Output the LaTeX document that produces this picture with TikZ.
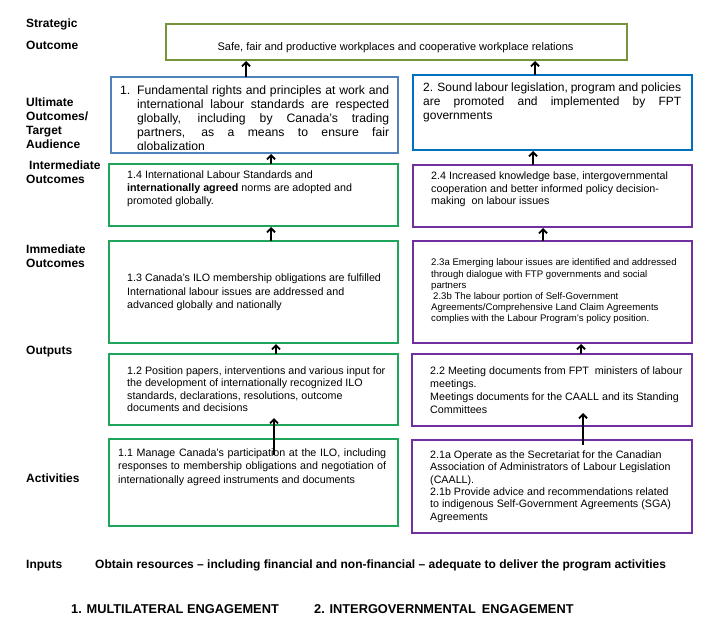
\documentclass[tikz,border=0pt]{standalone}
\usepackage{fontspec}
\setmainfont{Liberation Sans}
\usetikzlibrary{arrows.meta}
\definecolor{olivebox}{HTML}{77933C}
\definecolor{blueA}{HTML}{4F81BD}
\definecolor{blueB}{HTML}{0070C0}
\definecolor{greenbox}{RGB}{30,165,90}
\definecolor{purplebox}{HTML}{7030A0}
\newcommand{\mystrut}{\rule{0pt}{0.8em}}
\begin{document}
\begin{tikzpicture}[x=1pt,y=-1pt,
  frame/.style={draw=#1, line width=2pt, rectangle, inner sep=0pt, outer sep=0pt, anchor=north west},
  arr/.style={-{Straight Barb[length=4pt,width=8pt]}, line width=1.8pt, shorten >=1pt},
  lbl/.style={font=\fontsize{12}{14}\selectfont\bfseries, anchor=base west, inner sep=0pt},
  ttl/.style={font=\fontsize{12.8}{15}\selectfont\bfseries, anchor=base west, inner sep=0pt},
  txt/.style={anchor=north west, inner sep=0pt, align=left},
  txtA/.style={txt, font=\fontsize{10.7}{13}\selectfont},
]
\useasboundingbox[fill=white] (0,0) rectangle (714,626);

% boxes
\node[frame=olivebox, minimum width=461pt, minimum height=36pt] (so) at (166,24) {};
\node[frame=blueA, minimum width=287pt, minimum height=76pt] (u1) at (111,77) {};
\node[frame=blueB, minimum width=279pt, minimum height=75pt] (u2) at (413,75) {};
\node[frame=greenbox, minimum width=289pt, minimum height=62pt] (i1) at (109,164) {};
\node[frame=purplebox, minimum width=279pt, minimum height=62pt] (i2) at (413,165) {};
\node[frame=greenbox, minimum width=289pt, minimum height=102pt] (m1) at (109,241) {};
\node[frame=purplebox, minimum width=279pt, minimum height=102pt] (m2) at (413,241) {};
\node[frame=greenbox, minimum width=289pt, minimum height=71pt] (o1) at (109,354) {};
\node[frame=purplebox, minimum width=280pt, minimum height=72pt] (o2) at (412,354) {};
\node[frame=greenbox, minimum width=289pt, minimum height=87pt] (a1) at (109,439) {};
\node[frame=purplebox, minimum width=280pt, minimum height=93pt] (a2) at (412,440) {};

% box texts
\node[txt, font=\fontsize{11}{13}\selectfont, anchor=base] (tso) at (395.5,50.5)
  {Safe, fair and productive workplaces and cooperative workplace relations};

\begin{scope}
\clip (112,78) rectangle (397,149.5);
\node[txt, font=\fontsize{12.2}{14}\selectfont] (tu1) at (120,84.3)
  {\mystrut\makebox[17pt][l]{1.}\makebox[252pt][s]{Fundamental rights and principles at work and}\\
   \hspace*{17pt}\makebox[252pt][s]{international labour standards are respected}\\
   \hspace*{17pt}\makebox[252pt][s]{globally, including by Canada's trading}\\
   \hspace*{17pt}\makebox[252pt][s]{partners, as a means to ensure fair}\\
   \hspace*{17pt}globalization};
\end{scope}

\node[txt, font=\fontsize{12}{14}\selectfont] (tu2) at (423,81.2)
  {\mystrut\makebox[258pt][s]{2. Sound labour legislation, program and policies}\\
   \makebox[258pt][s]{are promoted and implemented by FPT}\\
   governments};

\node[txtA] (ti1) at (127,169.9)
  {\mystrut 1.4 International Labour Standards and\\
   \textbf{internationally agreed} norms are adopted and\\
   promoted globally.};

\node[txtA, font=\fontsize{10.7}{12.7}\selectfont] (ti2) at (431,170.8)
  {\mystrut 2.4 Increased knowledge base, intergovernmental\\
   cooperation and better informed policy decision-\\
   making\ \ on labour issues};

\node[txtA, font=\fontsize{10.7}{13.5}\selectfont] (tm1) at (127,272.8)
  {\mystrut 1.3 Canada's ILO membership obligations are fulfilled\\
   International labour issues are addressed and\\
   advanced globally and nationally};

\node[txt, font=\fontsize{9.6}{11.2}\selectfont] (tm2) at (431,258.1)
  {\mystrut 2.3a Emerging labour issues are identified and addressed\\
   through dialogue with FTP governments and social\\
   partners\\
   \hspace*{2pt}2.3b The labour portion of Self-Government\\
   Agreements/Comprehensive Land Claim Agreements\\
   complies with the Labour Program's policy position.};

\node[txtA, font=\fontsize{10.7}{12.5}\selectfont] (to1) at (127,365.5)
  {\mystrut 1.2 Position papers, interventions and various input for\\
   the development of internationally recognized ILO\\
   standards, declarations, resolutions, outcome\\
   documents and decisions};

\node[txtA] (to2) at (430,365.8)
  {\mystrut 2.2 Meeting documents from FPT\ \ ministers of labour\\
   meetings.\\
   Meetings documents for the CAALL and its Standing\\
   Committees};

\node[txtA, font=\fontsize{10.7}{13.6}\selectfont] (ta1) at (118,447.5)
  {\mystrut\makebox[268pt][s]{1.1 Manage Canada's participation at the ILO, including}\\
   \makebox[268pt][s]{responses to membership obligations and negotiation of}\\
   internationally agreed instruments and documents};

\node[txtA, font=\fontsize{10.7}{12.3}\selectfont] (ta2) at (430,449.8)
  {\mystrut 2.1a Operate as the Secretariat for the Canadian\\
   Association of Administrators of Labour Legislation\\
   (CAALL).\\
   2.1b Provide advice and recommendations related\\
   to indigenous Self-Government Agreements (SGA)\\
   Agreements};

% left labels
\node[lbl] (l1) at (26,28) {Strategic};
\node[lbl] (l2) at (26,50) {Outcome};
\node[lbl] (l3) at (26,106.5) {Ultimate};
\node[lbl] (l4) at (26,120.5) {Outcomes/};
\node[lbl] (l5) at (26,134.5) {Target};
\node[lbl] (l6) at (26,148.5) {Audience};
\node[lbl] (l7) at (29,169.5) {Intermediate};
\node[lbl] (l8) at (26,183.5) {Outcomes};
\node[lbl] (l9) at (26,253.5) {Immediate};
\node[lbl] (l10) at (26,267.5) {Outcomes};
\node[lbl] (l11) at (26,354) {Outputs};
\node[lbl] (l12) at (26,482.5) {Activities};
\node[lbl] (l13) at (26,568.5) {Inputs};
\node[lbl] (l14) at (95,568.5) {Obtain resources – including financial and non-financial – adequate to deliver the program activities};
\node[ttl] (l15) at (71,613) {1. MULTILATERAL ENGAGEMENT};
\node[ttl] (l16) at (314,613) {2. INTERGOVERNMENTAL\hspace{6pt}ENGAGEMENT};

% arrow columns
\coordinate (c1) at (246,0);
\coordinate (c2) at (535,0);
\coordinate (c3) at (271,0);
\coordinate (c4) at (533,0);
\coordinate (c5) at (543,0);
\coordinate (c6) at (276,0);
\coordinate (c7) at (581,0);
\coordinate (a1s) at (274,455);
\coordinate (o1t) at (274,418);
\coordinate (a2s) at (583,445);
\coordinate (o2t) at (583,413);

\draw[arr] (u1.north -| c1) -- (so.south -| c1);
\draw[arr] (u2.north -| c2) -- (so.south -| c2);
\draw[arr] (i1.north -| c3) -- (u1.south -| c3);
\draw[arr] (i2.north -| c4) -- (u2.south -| c4);
\draw[arr] (m1.north -| c3) -- (i1.south -| c3);
\draw[arr] (m2.north -| c5) -- (i2.south -| c5);
\draw[arr] (o1.north -| c6) -- (m1.south -| c6);
\draw[arr] (o2.north -| c7) -- (m2.south -| c7);
\draw[arr, shorten >=0pt] (a1s) -- (o1t);
\draw[arr, shorten >=0pt] (a2s) -- (o2t);
\end{tikzpicture}
\end{document}
